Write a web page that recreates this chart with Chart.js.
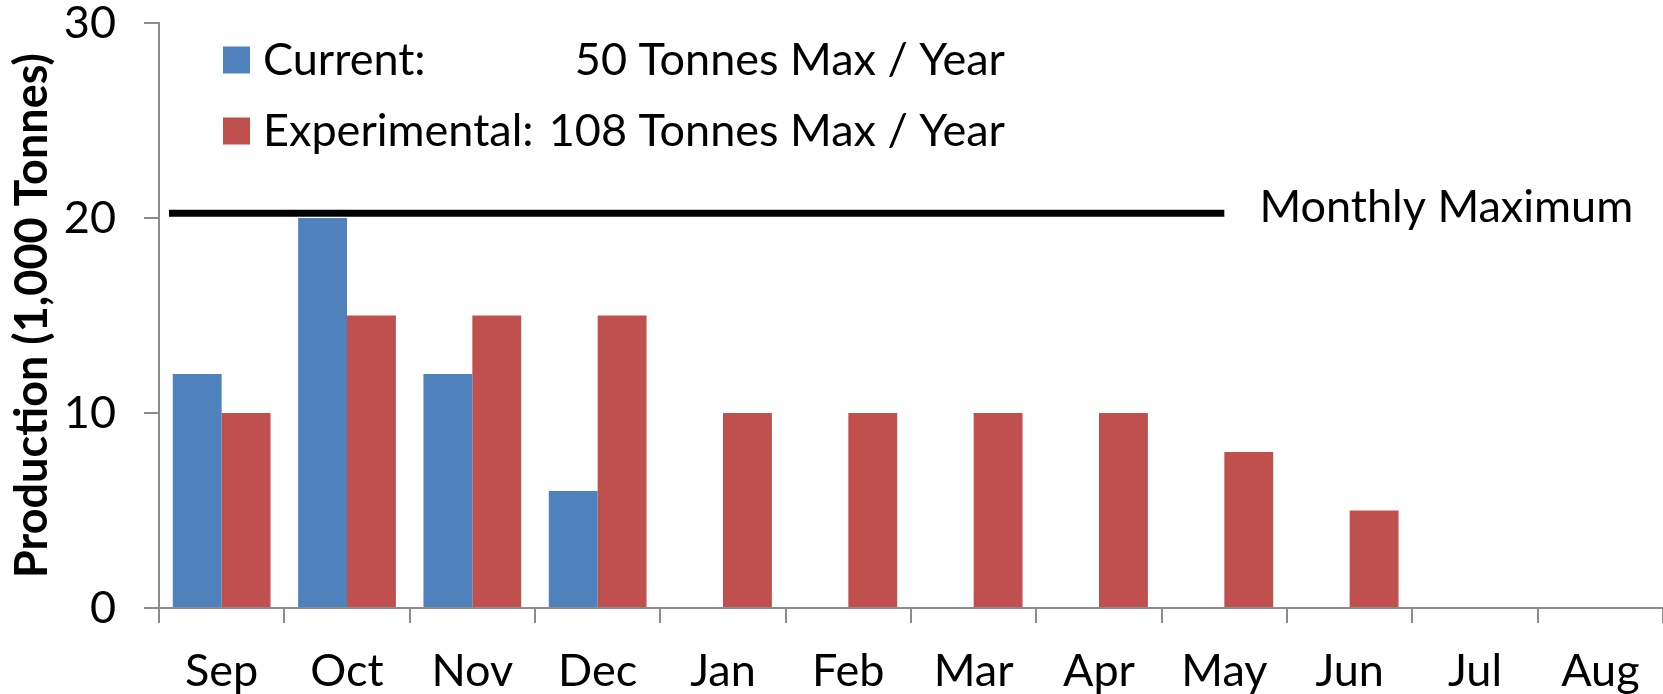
<!DOCTYPE html>
<html>
<head>
<meta charset="utf-8">
<script src="https://cdn.jsdelivr.net/npm/chart.js@4/dist/chart.umd.min.js"></script>
<style>
  html, body { margin: 0; padding: 0; background: #fff; }
  #wrap { width: 1663px; height: 694px; }
</style>
</head>
<body>
<div id="wrap"><canvas id="chart"></canvas></div>
<script>
// Production per month, thousands of tonnes
const MONTHS = ['Sep', 'Oct', 'Nov', 'Dec', 'Jan', 'Feb', 'Mar', 'Apr', 'May', 'Jun', 'Jul', 'Aug'];
const CURRENT = [12, 20, 12, 6, null, null, null, null, null, null, null, null];
const EXPERIMENTAL = [10, 15, 15, 15, 10, 10, 10, 10, 8, 5, null, null];
const SERIES_NAMES = ['Current:', 'Experimental:'];
const SERIES_CAPS = ['50 Tonnes Max / Year', '108 Tonnes Max / Year'];
const Y_TICKS = [0, 10, 20, 30];

// Monthly maximum reference line (x in month index units, y in 1,000 tonnes)
const MAX_LINE = [{ x: -0.42, y: 20.25 }, { x: 8.0, y: 20.25 }];
const MAX_LABEL = 'Monthly Maximum';

const BLUE = '#4f81bd';
const RED = '#c0504d';
const AXIS_GREY = '#8c8c8c';
const FONT = 'Lato';
const FONT_SIZE = 45;

Chart.defaults.font.family = FONT;
Chart.defaults.color = '#000';

// month index -> {x, y} points for the shared linear x axis
const toPoints = arr => arr.map((v, i) => ({ x: i, y: v }));

// legend drawn inside the plot, two columns like the original
const insideLegend = {
  id: 'insideLegend',
  afterDraw(chart) {
    const { ctx, chartArea } = chart;
    const colors = [BLUE, RED];
    ctx.save();
    ctx.font = FONT_SIZE + 'px ' + FONT;
    ctx.textBaseline = 'middle';
    SERIES_NAMES.forEach((name, i) => {
      const cy = chartArea.top + 37 + i * 71;
      ctx.fillStyle = colors[i];
      ctx.fillRect(chartArea.left + 64, cy - 13.5, 27, 27);
      ctx.fillStyle = '#000';
      ctx.textAlign = 'left';
      ctx.fillText(name, chartArea.left + 104, cy);
      ctx.textAlign = 'right';
      ctx.fillText(SERIES_CAPS[i], chartArea.left + 846, cy);
    });
    ctx.restore();
  }
};

// label at the end of the maximum line
const maxLabel = {
  id: 'maxLabel',
  afterDatasetsDraw(chart) {
    const { ctx } = chart;
    const xs = chart.scales.x, ys = chart.scales.y;
    ctx.save();
    ctx.font = FONT_SIZE + 'px ' + FONT;
    ctx.textAlign = 'left';
    ctx.textBaseline = 'alphabetic';
    ctx.fillStyle = '#000';
    ctx.fillText(MAX_LABEL, xs.getPixelForValue(8.28), ys.getPixelForValue(MAX_LINE[0].y) + 9);
    ctx.restore();
  }
};

new Chart(document.getElementById('chart'), {
  type: 'bar',
  data: {
    datasets: [
      { label: SERIES_NAMES[0], data: toPoints(CURRENT), backgroundColor: BLUE, borderWidth: 0,
        categoryPercentage: 0.78, barPercentage: 1 },
      { label: SERIES_NAMES[1], data: toPoints(EXPERIMENTAL), backgroundColor: RED, borderWidth: 0,
        categoryPercentage: 0.78, barPercentage: 1 },
      { type: 'line', label: MAX_LABEL, data: MAX_LINE,
        borderColor: '#000', borderWidth: 7, pointRadius: 0, borderCapStyle: 'butt', fill: false }
    ]
  },
  options: {
    responsive: true,
    maintainAspectRatio: false,
    animation: false,
    layout: { padding: { top: 23, right: 0, left: 0, bottom: 0 } },
    plugins: {
      legend: { display: false },
      tooltip: { enabled: false }
    },
    scales: {
      x: {
        type: 'linear', min: -0.5, max: MONTHS.length - 0.5, offset: false,
        afterBuildTicks(scale) { scale.ticks = MONTHS.map((m, i) => ({ value: i })); },
        grid: { offset: true, drawOnChartArea: false, drawTicks: true, tickLength: 15, color: AXIS_GREY, lineWidth: 2 },
        border: { color: AXIS_GREY, width: 2 },
        ticks: { font: { size: FONT_SIZE }, padding: 21, color: '#000', maxRotation: 0, autoSkip: false,
                 callback: v => MONTHS[v] },
        afterFit(scale) { scale.height = 86; scale.paddingLeft = 0; scale.paddingRight = 0; }
      },
      y: {
        min: 0, max: 30,
        afterBuildTicks(scale) { scale.ticks = Y_TICKS.map(v => ({ value: v })); },
        grid: { drawOnChartArea: false, drawTicks: true, tickLength: 15, color: AXIS_GREY, lineWidth: 2 },
        border: { color: AXIS_GREY, width: 2 },
        ticks: { font: { size: FONT_SIZE }, padding: 28, color: '#000' },
        title: {
          display: true, text: 'Production (1,000 Tonnes)',
          font: { size: FONT_SIZE, weight: 'bold' }, color: '#000', padding: { top: 5, bottom: 0 }
        },
        afterFit(scale) { scale.width = 159; scale.paddingTop = 0; scale.paddingBottom = 0; }
      }
    }
  },
  plugins: [insideLegend, maxLabel]
});
</script>
</body>
</html>
